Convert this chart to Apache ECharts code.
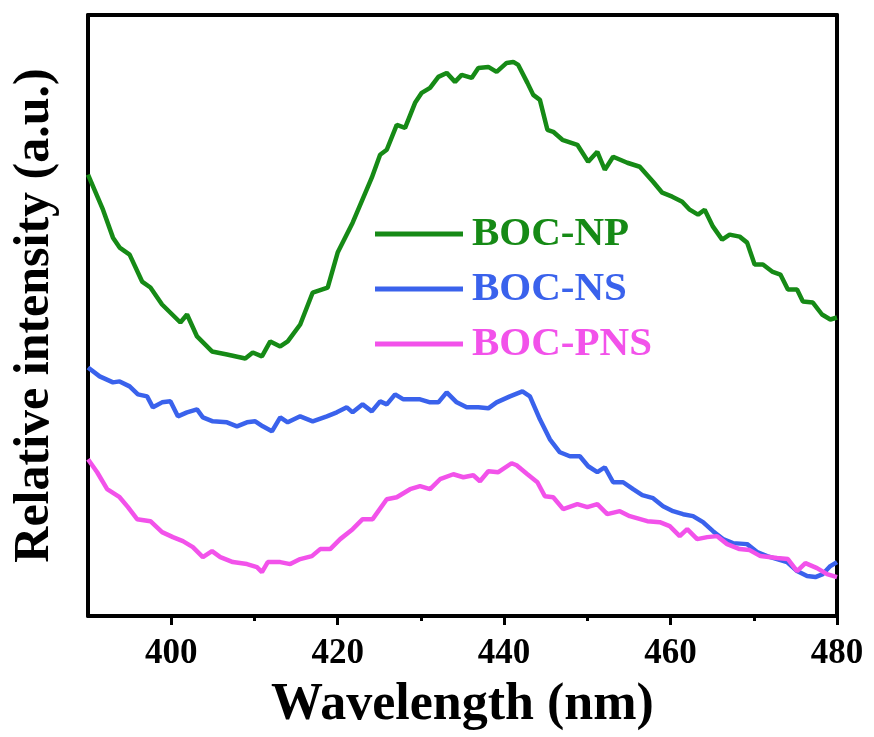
<!DOCTYPE html>
<html>
<head>
<meta charset="utf-8">
<script src="https://cdn.jsdelivr.net/npm/echarts@6/dist/echarts.min.js"></script>
<style>
html,body{margin:0;padding:0;background:#fff;}
#chart{width:874px;height:737px;}
</style>
</head>
<body>
<div id="chart"></div>
<script>
// Wavelength (nm) / relative intensity (arbitrary units) pairs
var seriesNames = ['BOC-NP', 'BOC-NS', 'BOC-PNS'];
var majorTicks = [400, 420, 440, 460, 480];
var minorTicks = [410, 430, 450, 470];

var bocNP = [
[390.0,442],[391.8,407],[393.0,379],[393.8,369],[395.0,362],[396.5,335],[397.5,329],[398.9,312],
[401.1,294],[401.9,302],[403.1,280],[404.9,265],[406.7,262],[408.9,258],[409.8,264],[410.9,260],
[411.9,275],[413.1,270],[414.0,275],[415.5,292],[417.0,324],[418.8,329],[420.0,364],[421.8,394],
[424.1,439],[425.1,462],[425.9,467],[427.1,492],[428.1,489],[429.3,514],[430.1,524],[431.1,529],
[432.1,540],[433.1,544],[434.1,535],[434.9,542],[436.1,539],[436.9,549],[438.1,550],[439.1,545],
[440.3,554],[441.1,555],[441.7,552],[442.8,534],[443.5,522],[444.3,517],[445.2,487],[445.9,485],
[447.0,477],[448.8,472],[450.1,455],[451.2,465],[452.1,447],[453.1,460],[454.8,454],[456.3,450],
[457.9,435],[459.0,424],[460.2,420],[461.4,415],[462.3,407],[463.3,402],[464.1,407],[465.1,390],
[466.2,377],[467.1,382],[468.3,380],[469.2,374],[470.1,352],[471.1,352],[472.2,345],[473.2,342],
[474.1,327],[475.2,327],[475.9,315],[477.1,314],[478.2,302],[479.2,297],[480.0,299]
];

var bocNS = [
[390.0,249],[391.4,240],[393.0,234],[393.8,235],[395.0,230],[396.0,222],[397.1,220],[397.8,209],
[398.9,214],[399.9,215],[400.8,200],[401.9,204],[403.1,207],[403.8,199],[405.0,195],[406.7,194],
[407.9,190],[409.1,194],[410.1,195],[411.0,190],[412.1,185],[413.1,199],[414.0,194],[415.5,200],
[417.0,195],[418.7,200],[419.9,204],[421.1,209],[421.8,204],[423.0,212],[424.1,205],[425.1,215],
[425.9,212],[426.9,222],[427.9,217],[429.1,217],[429.9,217],[431.1,214],[432.1,214],[433.1,224],
[434.3,214],[435.5,209],[436.9,209],[438.1,208],[439.1,214],[440.7,220],[442.2,225],[443.1,220],
[444.3,197],[445.5,177],[446.7,164],[447.9,160],[449.1,160],[450.1,150],[451.2,144],[452.1,149],
[453.1,134],[454.3,134],[455.5,127],[456.6,121],[457.9,118],[459.1,110],[460.3,105],[461.5,102],
[462.7,100],[463.9,94],[465.1,85],[466.3,77],[467.5,73],[469.2,72],[470.4,64],[471.6,60],
[472.8,57],[474.0,54],[475.2,45],[476.4,40],[477.4,39],[478.3,42],[479.2,50],[480.0,54]
];

var bocPNS = [
[390.0,157],[391.1,144],[392.3,127],[393.8,119],[394.8,109],[395.9,97],[397.5,95],[398.9,84],
[400.2,79],[401.4,75],[402.6,69],[403.8,59],[404.9,65],[405.9,59],[407.4,54],[409.1,52],
[410.3,49],[410.9,44],[411.6,54],[413.1,54],[414.3,52],[415.5,57],[416.9,60],[417.9,67],
[419.1,67],[420.3,77],[421.8,87],[423.0,97],[424.2,97],[425.9,117],[427.1,119],[428.7,127],
[429.9,130],[431.1,127],[432.3,137],[433.9,142],[435.1,139],[436.3,141],[437.1,135],[438.1,145],
[439.3,144],[440.9,153],[441.5,151],[442.8,142],[444.0,134],[444.9,120],[445.9,119],[447.1,107],
[448.8,112],[450.0,109],[451.2,112],[452.4,102],[453.9,105],[455.1,100],[457.2,95],[458.7,94],
[459.9,90],[461.1,80],[462.0,87],[463.2,77],[464.4,79],[465.6,80],[466.8,72],[468.3,67],
[469.5,66],[470.8,60],[472.8,58],[474.1,57],[475.2,45],[476.2,53],[477.6,48],[478.8,42],[480.0,39]
];

var colors = ['#168a16', '#3a62ec', '#f252ea'];
var serif = '"Liberation Serif", "Times New Roman", "DejaVu Serif", serif';

var chart = echarts.init(document.getElementById('chart'), null, {renderer: 'canvas'});
var option = {
  backgroundColor: '#ffffff',
  animation: false,
  grid: {left: 88, right: 37, top: 15, bottom: 120, containLabel: false},
  legend: {
    data: seriesNames.map(function (n, i) {
      return {name: n, icon: 'rect', textStyle: {color: colors[i]}};
    }),
    orient: 'vertical',
    left: 375,
    top: 213,
    padding: 0,
    itemWidth: 88,
    itemHeight: 5,
    itemGap: 13,
    textStyle: {fontFamily: serif, fontWeight: 'bold', fontSize: 41, lineHeight: 42, padding: [0, 0, 0, 4]}
  },
  xAxis: [
    {
      type: 'value', position: 'bottom', min: 390, max: 480,
      name: 'Wavelength (nm)', nameLocation: 'middle', nameGap: 64,
      nameTextStyle: {fontFamily: serif, fontWeight: 'bold', fontSize: 52, color: '#000'},
      axisLine: {show: true, onZero: false, lineStyle: {color: '#000', width: 4}},
      axisTick: {show: true, inside: false, length: 9, lineStyle: {color: '#000', width: 3}, customValues: majorTicks},
      axisLabel: {show: true, margin: 20, fontFamily: serif, fontWeight: 'bold', fontSize: 35, color: '#000', customValues: majorTicks},
      splitLine: {show: false}
    },
    {
      type: 'value', position: 'bottom', min: 390, max: 480,
      axisLine: {show: false, onZero: false},
      axisTick: {show: true, inside: false, length: 5, lineStyle: {color: '#000', width: 3}, customValues: minorTicks},
      axisLabel: {show: false},
      splitLine: {show: false}
    },
    {
      type: 'value', position: 'top', min: 390, max: 480,
      axisLine: {show: true, onZero: false, lineStyle: {color: '#000', width: 4}},
      axisTick: {show: false}, axisLabel: {show: false}, splitLine: {show: false}
    }
  ],
  yAxis: [
    {
      type: 'value', position: 'left', min: 0, max: 602,
      name: 'Relative intensity (a.u.)', nameLocation: 'middle', nameGap: 28,
      nameTextStyle: {fontFamily: serif, fontWeight: 'bold', fontSize: 50, color: '#000'},
      axisLine: {show: true, onZero: false, lineStyle: {color: '#000', width: 4}},
      axisTick: {show: false}, axisLabel: {show: false}, splitLine: {show: false}
    },
    {
      type: 'value', position: 'right', min: 0, max: 602,
      axisLine: {show: true, onZero: false, lineStyle: {color: '#000', width: 4}},
      axisTick: {show: false}, axisLabel: {show: false}, splitLine: {show: false}
    }
  ],
  series: [
    {name: seriesNames[0], type: 'line', data: bocNP, showSymbol: false, symbol: 'none', lineStyle: {color: colors[0], width: 4.5}, itemStyle: {color: colors[0]}},
    {name: seriesNames[1], type: 'line', data: bocNS, showSymbol: false, symbol: 'none', lineStyle: {color: colors[1], width: 4.5}, itemStyle: {color: colors[1]}},
    {name: seriesNames[2], type: 'line', data: bocPNS, showSymbol: false, symbol: 'none', lineStyle: {color: colors[2], width: 4.5}, itemStyle: {color: colors[2]}}
  ]
};
chart.setOption(option);
</script>
</body>
</html>
